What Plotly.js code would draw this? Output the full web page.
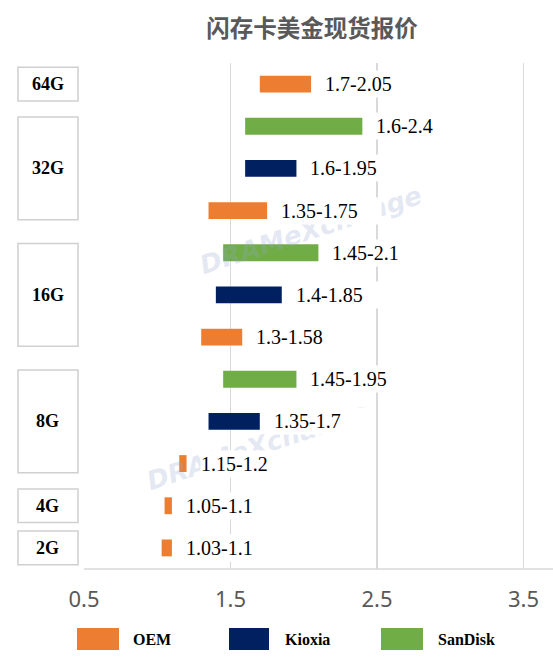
<!DOCTYPE html>
<html>
<head>
<meta charset="utf-8">
<script src="https://cdn.plot.ly/plotly-3.0.1.min.js"></script>
<style>html,body{margin:0;padding:0;background:#fff;}#chart{width:553px;height:664px;}</style>
</head>
<body>
<div id="chart"></div>
<script>
// ---------- data ----------
const chartTitle = '闪存卡美金现货报价';
const seriesNames = ['OEM', 'Kioxia', 'SanDisk'];
const rowGroup  = ['64G', '32G', '32G', '32G', '16G', '16G', '16G', '8G', '8G', '8G', '4G', '2G'];
const rowSeries = ['OEM', 'SanDisk', 'Kioxia', 'OEM', 'SanDisk', 'Kioxia', 'OEM', 'SanDisk', 'Kioxia', 'OEM', 'OEM', 'OEM'];
const lowVals   = [1.7, 1.6, 1.6, 1.35, 1.45, 1.4, 1.3, 1.45, 1.35, 1.15, 1.05, 1.03];
const highVals  = [2.05, 2.4, 1.95, 1.75, 2.1, 1.85, 1.58, 1.95, 1.7, 1.2, 1.1, 1.1];
const xTickVals = [0.5, 1.5, 2.5, 3.5];
const xTickText = ['0.5', '1.5', '2.5', '3.5'];
const watermarkText = 'DRAMeXchange';

// ---------- style ----------
const seriesColors = {OEM: '#ED7D31', Kioxia: '#002060', SanDisk: '#70AD47'};
const W = 553, H = 664;
const M = {l: 84, r: 0, t: 63, b: 95};
const PW = W - M.l - M.r, PH = H - M.t - M.b;
const px2x = p => (p - M.l) / PW;
const px2y = p => (M.t + PH - p) / PH;
const serif = 'Liberation Serif';
const legendPos = {OEM: [77, 119, 131], Kioxia: [229, 269, 283], SanDisk: [381, 423, 436]};
const legendY = [628, 650];

const rows = rowGroup.map((_, i) => i);

// ---------- traces ----------
const traces = seriesNames.map(name => {
  const idx = rows.filter(i => rowSeries[i] === name);
  return {
    type: 'bar',
    orientation: 'h',
    name: name,
    y: idx,
    base: idx.map(i => lowVals[i]),
    x: idx.map(i => highVals[i] - lowVals[i]),
    width: 0.4,
    marker: {color: seriesColors[name], line: {width: 0}},
    hoverinfo: 'skip',
    showlegend: false
  };
});

// ---------- annotations & shapes ----------
const annotations = [];
const shapes = [];

// watermarks (drawn first, beneath labels)
[[311, 230], [258, 446]].forEach(([cx, cy]) => {
  annotations.push({
    xref: 'paper', yref: 'paper', x: px2x(cx), y: px2y(cy),
    xanchor: 'center', yanchor: 'middle', showarrow: false,
    text: '<b><i>' + watermarkText + '</i></b>', textangle: -18,
    font: {family: 'DejaVu Sans, sans-serif', size: 26, color: 'rgba(150,165,205,0.26)'}
  });
});

// value labels
rows.forEach(i => {
  annotations.push({
    xref: 'x', yref: 'y', x: highVals[i], y: i,
    xanchor: 'left', yanchor: 'middle', xshift: 13, showarrow: false,
    text: String(lowVals[i]) + '-' + String(highVals[i]),
    align: 'left', width: 100, height: 26,
    bgcolor: '#ffffff', borderpad: 0,
    font: {family: serif, size: 20, color: '#000000'}
  });
});

// group boxes and labels
const groups = [...new Set(rowGroup)];
groups.forEach(g => {
  const idx = rows.filter(i => rowGroup[i] === g);
  const c = idx.reduce((a, b) => a + b, 0) / idx.length;
  const half = 0.4 + 0.41 * (idx.length - 1);
  shapes.push({
    type: 'rect', xref: 'paper', yref: 'y',
    x0: px2x(18), x1: px2x(78), y0: c - half, y1: c + half,
    line: {color: '#d0d0d0', width: 1.5}, fillcolor: '#ffffff'
  });
  annotations.push({
    xref: 'paper', yref: 'y', x: px2x(47.5), y: c,
    xanchor: 'center', yanchor: 'middle', showarrow: false,
    text: '<b>' + g + '</b>',
    font: {family: serif, size: 18, color: '#000000'}
  });
});

// bottom axis line
shapes.push({
  type: 'line', xref: 'paper', yref: 'paper', x0: 0, x1: 1, y0: 0, y1: 0,
  line: {color: '#d9d9d9', width: 1.3}
});

// custom legend
seriesNames.forEach(name => {
  const [a, b, t] = legendPos[name];
  shapes.push({
    type: 'rect', xref: 'paper', yref: 'paper',
    x0: px2x(a), x1: px2x(b), y0: px2y(legendY[1]), y1: px2y(legendY[0]),
    line: {width: 0}, fillcolor: seriesColors[name]
  });
  annotations.push({
    xref: 'paper', yref: 'paper', x: px2x(t), y: px2y((legendY[0] + legendY[1]) / 2),
    xanchor: 'left', yanchor: 'middle', showarrow: false,
    text: '<b>' + name + '</b>',
    font: {family: serif, size: 16, color: '#000000'}
  });
});

const layout = {
  width: W, height: H,
  margin: M,
  paper_bgcolor: '#ffffff', plot_bgcolor: '#ffffff',
  barmode: 'overlay',
  showlegend: false,
  title: {
    text: '<b>' + chartTitle + '</b>',
    x: 312 / W, xref: 'container', xanchor: 'center',
    y: 1 - 29 / H, yref: 'container', yanchor: 'middle',
    font: {family: 'Noto Sans CJK SC, sans-serif', size: 23.5, color: '#595959'}
  },
  xaxis: {
    range: [0.5, 0.5 + PW / 146.5],
    tickvals: xTickVals, ticktext: xTickText,
    showgrid: true, gridcolor: '#d9d9d9', gridwidth: 1.3,
    zeroline: false, showline: false, ticks: '',
    ticklabelstandoff: 15,
    tickfont: {family: 'Noto Sans, sans-serif', size: 22, color: '#595959'},
    fixedrange: true
  },
  yaxis: {
    range: [11.5, -0.5],
    showgrid: false, zeroline: false, showline: false,
    showticklabels: false, ticks: '', fixedrange: true
  },
  annotations: annotations,
  shapes: shapes
};

Plotly.newPlot('chart', traces, layout, {staticPlot: true, displayModeBar: false});
</script>
</body>
</html>
